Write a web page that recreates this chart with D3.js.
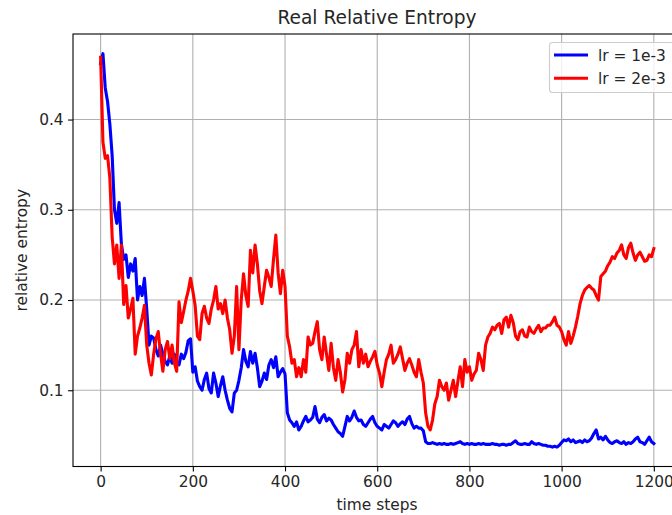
<!DOCTYPE html>
<html>
<head>
<meta charset="utf-8">
<script src="https://cdn.jsdelivr.net/npm/d3@7"></script>
<style>
  html, body { margin: 0; padding: 0; background: #ffffff; }
  svg { display: block; font-family: "DejaVu Sans", sans-serif; }
</style>
</head>
<body>
<svg id="chart" width="672" height="515"></svg>
<script>
// Relative entropy recorded every 5 time steps for two learning rates.
const stepInterval = 5;

const lr1e3 = [
  0.462,0.473,0.435,0.420,0.395,0.360,0.300,0.285,0.308,0.262,0.245,0.250,0.225,0.240,0.232,0.246,0.200,0.215,0.205,0.224,
  0.190,0.150,0.160,0.158,0.145,0.138,0.150,0.140,0.132,0.128,0.138,0.130,0.140,0.132,0.128,0.140,0.135,0.142,0.155,0.157,
  0.120,0.126,0.110,0.104,0.100,0.112,0.119,0.102,0.097,0.119,0.108,0.093,0.105,0.115,0.100,0.089,0.080,0.076,0.097,0.100,
  0.111,0.125,0.145,0.132,0.126,0.143,0.130,0.141,0.125,0.104,0.110,0.119,0.112,0.128,0.134,0.125,0.137,0.115,0.120,0.124,
  0.118,0.075,0.067,0.064,0.060,0.065,0.056,0.060,0.066,0.071,0.065,0.067,0.070,0.082,0.068,0.064,0.070,0.073,0.066,0.069,
  0.067,0.062,0.058,0.054,0.052,0.049,0.060,0.071,0.066,0.070,0.077,0.070,0.066,0.067,0.062,0.060,0.064,0.068,0.071,0.064,
  0.060,0.058,0.056,0.062,0.060,0.058,0.062,0.066,0.064,0.060,0.063,0.065,0.062,0.068,0.071,0.063,0.058,0.060,0.058,0.058,
  0.055,0.043,0.041,0.041,0.042,0.041,0.040,0.041,0.040,0.041,0.040,0.040,0.041,0.040,0.041,0.042,0.043,0.041,0.040,0.041,
  0.040,0.041,0.040,0.040,0.041,0.040,0.041,0.040,0.040,0.040,0.041,0.040,0.040,0.039,0.040,0.040,0.039,0.040,0.040,0.042,
  0.044,0.041,0.040,0.040,0.041,0.040,0.040,0.043,0.041,0.040,0.041,0.040,0.039,0.039,0.038,0.038,0.037,0.038,0.037,0.039,
  0.042,0.045,0.044,0.046,0.043,0.045,0.042,0.043,0.044,0.042,0.045,0.043,0.044,0.047,0.052,0.056,0.046,0.048,0.045,0.049,
  0.045,0.042,0.041,0.043,0.044,0.042,0.041,0.043,0.040,0.042,0.041,0.043,0.046,0.048,0.043,0.042,0.040,0.044,0.048,0.043,
  0.041
];

const lr2e3 = [
  0.469,0.375,0.357,0.360,0.335,0.270,0.240,0.261,0.224,0.261,0.195,0.216,0.180,0.190,0.202,0.140,0.160,0.169,0.180,0.194,
  0.150,0.130,0.117,0.140,0.157,0.165,0.140,0.121,0.145,0.154,0.135,0.150,0.130,0.121,0.198,0.175,0.187,0.200,0.210,0.224,
  0.210,0.194,0.160,0.156,0.185,0.193,0.180,0.174,0.190,0.200,0.215,0.190,0.196,0.185,0.200,0.180,0.167,0.141,0.160,0.215,
  0.145,0.200,0.229,0.205,0.193,0.255,0.230,0.261,0.240,0.210,0.196,0.215,0.233,0.225,0.215,0.245,0.272,0.230,0.207,0.233,
  0.215,0.160,0.148,0.130,0.134,0.115,0.125,0.115,0.134,0.120,0.159,0.150,0.152,0.165,0.176,0.145,0.134,0.159,0.140,0.122,
  0.152,0.125,0.111,0.134,0.120,0.098,0.112,0.141,0.130,0.145,0.150,0.165,0.126,0.145,0.130,0.140,0.126,0.132,0.137,0.143,
  0.128,0.119,0.104,0.120,0.134,0.140,0.150,0.130,0.134,0.140,0.148,0.135,0.122,0.130,0.135,0.128,0.120,0.115,0.134,0.120,
  0.108,0.075,0.060,0.056,0.067,0.085,0.093,0.111,0.104,0.100,0.108,0.089,0.100,0.111,0.093,0.110,0.126,0.104,0.134,0.120,
  0.126,0.111,0.118,0.122,0.141,0.134,0.122,0.150,0.159,0.163,0.170,0.167,0.172,0.174,0.163,0.178,0.181,0.170,0.183,0.175,
  0.160,0.156,0.165,0.167,0.160,0.159,0.170,0.165,0.163,0.168,0.172,0.165,0.169,0.169,0.172,0.172,0.176,0.181,0.172,0.170,
  0.165,0.156,0.150,0.165,0.152,0.160,0.170,0.182,0.196,0.205,0.211,0.214,0.216,0.213,0.211,0.205,0.200,0.226,0.229,0.232,
  0.238,0.242,0.248,0.246,0.252,0.255,0.261,0.250,0.246,0.258,0.263,0.252,0.244,0.250,0.253,0.248,0.243,0.244,0.250,0.248,
  0.257
];

const seriesNames = ["lr = 1e-3", "lr = 2e-3"];
const seriesColors = ["#0000ff", "#ff0000"];
const xTicks = [0, 200, 400, 600, 800, 1000, 1200];
const yTicks = [0.1, 0.2, 0.3, 0.4];
const titleText = "Real Relative Entropy";
const xLabel = "time steps";
const yLabel = "relative entropy";

const svg = d3.select("#chart");
const plot = { left: 73, top: 34, right: 681, bottom: 466.5 };

const x = d3.scaleLinear().domain([-59.95, 1258.95]).range([plot.left, plot.right]);
const y = d3.scaleLinear().domain([0.0155, 0.4948]).range([plot.bottom, plot.top]);

const gridColor = "#b0b0b0";
const labelSize = "15.4px";

// grid
const grid = svg.append("g");
grid.selectAll("line.gx").data(xTicks).join("line")
  .attr("x1", d => x(d)).attr("x2", d => x(d))
  .attr("y1", plot.top).attr("y2", plot.bottom)
  .attr("stroke", gridColor).attr("stroke-width", 1.1);
grid.selectAll("line.gy").data(yTicks).join("line")
  .attr("x1", plot.left).attr("x2", plot.right)
  .attr("y1", d => y(d)).attr("y2", d => y(d))
  .attr("stroke", gridColor).attr("stroke-width", 1.1);

// series lines
const series = [lr1e3, lr2e3];
const line = d3.line()
  .x((d, i) => x(i * stepInterval))
  .y(d => y(d));

svg.append("g").selectAll("path").data(series).join("path")
  .attr("d", d => line(d))
  .attr("fill", "none")
  .attr("stroke", (d, i) => seriesColors[i])
  .attr("stroke-width", 3.1)
  .attr("stroke-linejoin", "round")
  .attr("stroke-linecap", "square");

// axes
const xAxis = d3.axisBottom(x).tickValues(xTicks).tickSize(4.9).tickPadding(4.5)
  .tickFormat(d3.format("d"));
const yAxis = d3.axisLeft(y).tickValues(yTicks).tickSize(4.9).tickPadding(4.5)
  .tickFormat(d3.format(".1f"));

const gx = svg.append("g").attr("transform", `translate(0,${plot.bottom})`).call(xAxis);
const gy = svg.append("g").attr("transform", `translate(${plot.left},0)`).call(yAxis);
[gx, gy].forEach(g => {
  g.select(".domain").remove();
  g.selectAll(".tick line").attr("stroke", "#000").attr("stroke-width", 1.1);
  g.selectAll(".tick text").attr("fill", "#262626")
    .style("font-family", "'DejaVu Sans', sans-serif").style("font-size", labelSize);
});

// spines
svg.append("rect")
  .attr("x", plot.left).attr("y", plot.top)
  .attr("width", plot.right - plot.left).attr("height", plot.bottom - plot.top)
  .attr("fill", "none").attr("stroke", "#000").attr("stroke-width", 1.1);

// title and axis labels
svg.append("text")
  .attr("x", (plot.left + plot.right) / 2).attr("y", 24)
  .attr("text-anchor", "middle")
  .attr("fill", "#262626")
  .style("font-size", "18.6px")
  .text(titleText);

svg.append("text")
  .attr("x", (plot.left + plot.right) / 2).attr("y", 510)
  .attr("text-anchor", "middle")
  .attr("fill", "#262626")
  .style("font-size", labelSize)
  .text(xLabel);

svg.append("text")
  .attr("transform", `translate(27,${(plot.top + plot.bottom) / 2}) rotate(-90)`)
  .attr("text-anchor", "middle")
  .attr("fill", "#262626")
  .style("font-size", labelSize)
  .text(yLabel);

// legend
const legend = svg.append("g");
legend.append("rect")
  .attr("x", 549.5).attr("y", 42.5)
  .attr("width", 124.5).attr("height", 50)
  .attr("rx", 3).attr("ry", 3)
  .attr("fill", "#ffffff").attr("fill-opacity", 0.8)
  .attr("stroke", "#cccccc").attr("stroke-width", 1.1);

const rows = legend.selectAll("g.row").data(seriesNames).join("g")
  .attr("transform", (d, i) => `translate(0,${55 + i * 23.3})`);
rows.append("line")
  .attr("x1", 554).attr("x2", 588)
  .attr("y1", 0).attr("y2", 0)
  .attr("stroke", (d, i) => seriesColors[i])
  .attr("stroke-width", 3.1);
rows.append("text")
  .attr("x", 598).attr("y", 5.5)
  .attr("fill", "#262626")
  .style("font-size", labelSize)
  .text(d => d);
</script>
</body>
</html>
